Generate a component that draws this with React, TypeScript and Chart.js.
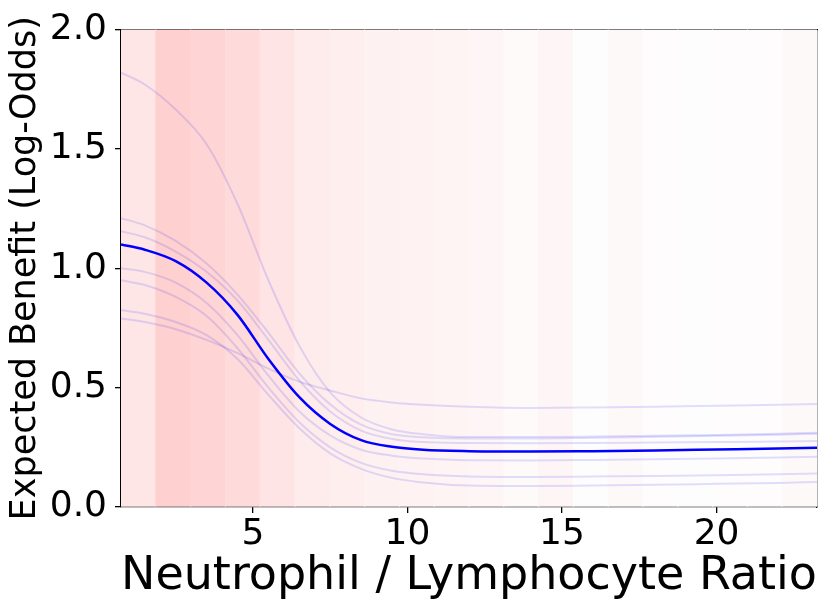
import React, { useEffect, useRef } from 'react';
import Chart from 'chart.js/auto';

// NLR grid the curves were read at
const nlrValues = [0.73, 1.5, 2.5, 3.5, 4.5, 5.5, 6.5, 7.5, 8.5, 9.5, 10.5, 12, 14, 16, 18, 20, 22, 23.25];

// mean expected benefit (bold blue line)
const meanBenefit = [1.10, 1.078, 1.03, 0.94, 0.805, 0.62, 0.46, 0.348, 0.28, 0.252, 0.24, 0.234, 0.232, 0.234, 0.237, 0.241, 0.245, 0.248];

// individual sampled curves (faint lines)
const sample1 = [1.82, 1.77, 1.665, 1.52, 1.27, 0.95, 0.675, 0.48, 0.375, 0.325, 0.305, 0.293, 0.293, 0.295, 0.298, 0.302, 0.307, 0.311];
const sample2 = [1.21, 1.18, 1.115, 1.02, 0.89, 0.73, 0.56, 0.43, 0.345, 0.305, 0.292, 0.287, 0.287, 0.29, 0.294, 0.298, 0.303, 0.307];
const sample3 = [1.155, 1.13, 1.07, 0.985, 0.865, 0.70, 0.53, 0.40, 0.32, 0.285, 0.272, 0.268, 0.267, 0.268, 0.27, 0.272, 0.274, 0.276];
const sample4 = [1.00, 0.985, 0.94, 0.855, 0.72, 0.55, 0.40, 0.30, 0.24, 0.215, 0.203, 0.196, 0.195, 0.197, 0.2, 0.203, 0.207, 0.21];
const sample5 = [0.95, 0.93, 0.88, 0.80, 0.665, 0.50, 0.355, 0.25, 0.185, 0.152, 0.137, 0.128, 0.126, 0.128, 0.13, 0.133, 0.137, 0.14];
const sample6 = [0.825, 0.81, 0.775, 0.72, 0.62, 0.47, 0.33, 0.225, 0.16, 0.122, 0.103, 0.09, 0.088, 0.09, 0.093, 0.097, 0.101, 0.105];
const sample7 = [0.79, 0.775, 0.745, 0.70, 0.645, 0.58, 0.525, 0.488, 0.455, 0.438, 0.428, 0.42, 0.415, 0.417, 0.42, 0.424, 0.428, 0.432];

// background density bands (histogram of NLR)
const bandCenters = [1.293, 2.419, 3.545, 4.671, 5.797, 6.923, 8.049, 9.175, 10.301, 11.427, 12.553, 13.679, 14.805, 15.931, 17.057, 18.183, 19.309, 20.435, 21.561, 22.687];
const bandShade = [0.10, 0.185, 0.17, 0.145, 0.105, 0.08, 0.065, 0.055, 0.05, 0.045, 0.035, 0.02, 0.035, 0.008, 0.022, 0.012, 0.006, 0.01, 0.01, 0.025];

const xTicks = [5, 10, 15, 20];
const yTicks = [0, 0.5, 1, 1.5, 2];

const FONT = 'DejaVu Sans';

// red tint over white, kept opaque so neighbouring bands don't darken where they touch
const tint = (a: number) => {
  const gb = Math.round(255 * (1 - a));
  return `rgb(254, ${gb}, ${gb})`;
};

const App: React.FC = () => {
  const canvasRef = useRef<HTMLCanvasElement>(null);

  useEffect(() => {
    if (!canvasRef.current) return;
    const samples = [sample1, sample2, sample3, sample4, sample5, sample6, sample7];

    const chart = new Chart(canvasRef.current, {
      type: 'line',
      data: {
        datasets: [
          {
            type: 'bar',
            data: bandCenters.map((x) => ({ x, y: 2 })),
            backgroundColor: bandShade.map(tint),
            borderWidth: 0,
            barPercentage: 1,
            categoryPercentage: 1,
            grouped: false,
            inflateAmount: 0.5,
            order: 10,
          } as any,
          ...samples.map((s) => ({
            data: nlrValues.map((x, i) => ({ x, y: s[i] })),
            borderColor: 'rgba(0, 0, 255, 0.12)',
            borderWidth: 2,
            pointRadius: 0,
            cubicInterpolationMode: 'monotone' as const,
            fill: false,
            order: 2,
          })),
          {
            data: nlrValues.map((x, i) => ({ x, y: meanBenefit[i] })),
            borderColor: '#0000ff',
            borderWidth: 2.5,
            pointRadius: 0,
            cubicInterpolationMode: 'monotone' as const,
            fill: false,
            order: 1,
          },
        ],
      },
      options: {
        responsive: true,
        maintainAspectRatio: false,
        animation: false,
        layout: { padding: { top: 27, right: 13, left: 0, bottom: 0 } },
        plugins: { legend: { display: false }, tooltip: { enabled: false } },
        scales: {
          x: {
            type: 'linear',
            position: 'bottom',
            min: 0.73,
            max: 23.25,
            offset: false,
            afterBuildTicks: (s: any) => { s.ticks = xTicks.map((v) => ({ value: v })); },
            afterFit: (s: any) => { s.height = 108; },
            ticks: { color: '#000', font: { family: FONT, size: 36 }, padding: 0, maxRotation: 0, autoSkip: false },
            grid: { display: true, offset: false, drawOnChartArea: false, drawTicks: true, tickLength: 6, color: '#000', lineWidth: 1.3 },
            border: { display: true, color: '#000', width: 1.3 },
            title: {
              display: true,
              text: 'Neutrophil / Lymphocyte Ratio',
              color: '#000',
              font: { family: FONT, size: 46.5 },
              padding: { top: 0, bottom: 10 },
            },
          },
          y: {
            type: 'linear',
            position: 'left',
            min: 0,
            max: 2,
            afterBuildTicks: (s: any) => { s.ticks = yTicks.map((v) => ({ value: v })); },
            afterFit: (s: any) => { s.width = 121; },
            ticks: {
              color: '#000',
              font: { family: FONT, size: 36 },
              padding: 8,
              callback: (v: any) => Number(v).toFixed(1),
            },
            grid: { display: true, drawOnChartArea: false, drawTicks: true, tickLength: 6, color: '#000', lineWidth: 1.3 },
            border: { display: true, color: '#000', width: 1.3 },
            title: {
              display: true,
              text: 'Expected Benefit (Log-Odds)',
              color: '#000',
              font: { family: FONT, size: 35 },
              padding: { top: 5, bottom: 0 },
            },
          },
          xTop: {
            type: 'linear',
            position: 'top',
            min: 0.73,
            max: 23.25,
            ticks: { display: false },
            grid: { display: false },
            border: { display: true, color: '#000', width: 1.3 },
            afterFit: (s: any) => { s.height = 0; },
          },
          yRight: {
            type: 'linear',
            position: 'right',
            min: 0,
            max: 2,
            ticks: { display: false },
            grid: { display: false },
            border: { display: true, color: '#000', width: 1.3 },
            afterFit: (s: any) => { s.width = 0; },
          },
        },
      },
    });

    return () => {
      chart.destroy();
    };
  }, []);

  return (
    <div style={{ position: 'fixed', left: 0, top: 0, width: 830, height: 615, background: '#fff' }}>
      <canvas ref={canvasRef}></canvas>
    </div>
  );
};

export default App;
